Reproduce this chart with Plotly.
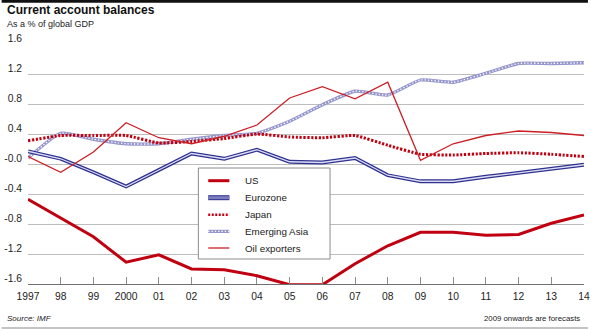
import plotly.graph_objects as go

# Current account balances, % of global GDP (2009 onwards are forecasts)
years = list(range(1997, 2015))
us = [-0.47, -0.72, -0.97, -1.31, -1.21, -1.40, -1.41, -1.49, -1.61, -1.61,
      -1.33, -1.09, -0.91, -0.91, -0.95, -0.94, -0.79, -0.68]
eurozone = [0.17, 0.07, -0.11, -0.30, -0.08, 0.14, 0.07, 0.19, 0.03, 0.02,
            0.08, -0.15, -0.23, -0.23, -0.17, -0.12, -0.07, -0.01]
japan = [0.31, 0.38, 0.38, 0.38, 0.28, 0.30, 0.34, 0.40, 0.36, 0.35,
         0.38, 0.25, 0.13, 0.12, 0.14, 0.15, 0.13, 0.10]
emerging_asia = [0.08, 0.41, 0.33, 0.27, 0.27, 0.33, 0.38, 0.41, 0.57, 0.79,
                 0.97, 0.92, 1.12, 1.09, 1.21, 1.34, 1.34, 1.35]
oil_exporters = [0.10, -0.11, 0.16, 0.55, 0.35, 0.27, 0.37, 0.52, 0.88, 1.03,
                 0.87, 1.09, 0.05, 0.27, 0.38, 0.44, 0.42, 0.38]

x_tick_labels = ["1997", "98", "99", "2000", "01", "02", "03", "04", "05",
                 "06", "07", "08", "09", "10", "11", "12", "13", "14"]
y_tick_vals = [1.6, 1.2, 0.8, 0.4, 0.0, -0.4, -0.8, -1.2, -1.6]
y_tick_labels = ["1.6", "1.2", "0.8", "0.4", "-0.0", "-0.4", "-0.8", "-1.2", "-1.6"]

series_names = ["US", "Eurozone", "Japan", "Emerging Asia", "Oil exporters"]

RED = "#c00010"
RED_THIN = "#cc1f26"
NAVY = "#2e3190"
LAVENDER = "#9696cc"
FONT = "Liberation Sans, Arial, sans-serif"

W_FIG, H_FIG = 594, 329
L, R, T, B = 26.7, 590.0, 44.3, 284.3
PW, PH = R - L, B - T


def px(x):
    return (x - L) / PW


def py(y):
    return (B - y) / PH


fig = go.Figure()

# Emerging Asia: chain of small rings (lavender band with white dots)
fig.add_trace(go.Scatter(x=years, y=emerging_asia, mode="lines",
                         line=dict(color=LAVENDER, width=3.3, shape="spline", smoothing=0.5),
                         showlegend=False, hoverinfo="skip"))
fig.add_trace(go.Scatter(x=years, y=emerging_asia, mode="lines", name="Emerging Asia",
                         line=dict(color="white", width=1.3, dash="1.3px,2px",
                                   shape="spline", smoothing=0.5),
                         showlegend=False))

# Eurozone: double navy line
fig.add_trace(go.Scatter(x=years, y=eurozone, mode="lines",
                         line=dict(color=NAVY, width=3.8),
                         showlegend=False, hoverinfo="skip"))
fig.add_trace(go.Scatter(x=years, y=eurozone, mode="lines", name="Eurozone",
                         line=dict(color="#dcdcf2", width=1.3),
                         showlegend=False))

# Japan: heavy dotted red
fig.add_trace(go.Scatter(x=years, y=japan, mode="lines", name="Japan",
                         line=dict(color=RED, width=3, dash="2.2px,1.6px",
                                   shape="spline", smoothing=0.4),
                         showlegend=False))

# Oil exporters: thin red
fig.add_trace(go.Scatter(x=years, y=oil_exporters, mode="lines", name="Oil exporters",
                         line=dict(color=RED_THIN, width=1.3),
                         showlegend=False))

# US: thick red
fig.add_trace(go.Scatter(x=years, y=us, mode="lines", name="US",
                         line=dict(color=RED, width=3),
                         showlegend=False))

shapes = []
annotations = []

# Header rule and footer rule
shapes.append(dict(type="rect", xref="paper", yref="paper",
                   x0=px(0), x1=px(W_FIG), y0=py(3), y1=py(0),
                   fillcolor="#111111", line=dict(width=0), layer="above"))
shapes.append(dict(type="line", xref="paper", yref="paper",
                   x0=px(0), x1=px(W_FIG), y0=py(328.3), y1=py(328.3),
                   line=dict(color="#b0b0b0", width=1.5)))

# Legend box
lx0, lx1, ly0, ly1 = 199.3, 332.7, 168.3, 259.3
shapes.append(dict(type="rect", xref="paper", yref="paper",
                   x0=px(lx0), x1=px(lx1), y0=py(ly1), y1=py(ly0),
                   fillcolor="white", line=dict(color="#8c8c8c", width=1), layer="above"))

sx0, sx1, text_x = 209.3, 230.7, 244.5
rows = [181.0, 198.0, 215.0, 231.7, 248.3]


def legend_line(y, color, width, dash=None):
    ln = dict(color=color, width=width)
    if dash:
        ln["dash"] = dash
    shapes.append(dict(type="line", xref="paper", yref="paper",
                       x0=px(sx0), x1=px(sx1), y0=py(y), y1=py(y),
                       line=ln, layer="above"))


legend_line(rows[0], RED, 3)
legend_line(rows[1], NAVY, 5)
legend_line(rows[1], "#7c7cc0", 3)
legend_line(rows[2], RED, 2.5, "2px,1.5px")
legend_line(rows[3], LAVENDER, 3.2)
legend_line(rows[3], "white", 1.2, "1.3px,2px")
legend_line(rows[4], RED_THIN, 1.3)

for name, y in zip(series_names, rows):
    annotations.append(dict(xref="paper", yref="paper", x=px(text_x), y=py(y),
                            text=name, showarrow=False, xanchor="left", yanchor="middle",
                            font=dict(family=FONT, size=9.8, color="#222222")))

# Titles and notes
annotations.append(dict(xref="paper", yref="paper", x=px(3.5), y=py(10.5),
                        text="<b>Current account balances</b>", showarrow=False,
                        xanchor="left", yanchor="middle",
                        font=dict(family=FONT, size=12, color="#111111")))
annotations.append(dict(xref="paper", yref="paper", x=px(3.5), y=py(24),
                        text="As a % of global GDP", showarrow=False,
                        xanchor="left", yanchor="middle",
                        font=dict(family=FONT, size=9, color="#222222")))
annotations.append(dict(xref="paper", yref="paper", x=px(3), y=py(319),
                        text="<i>Source: IMF</i>", showarrow=False,
                        xanchor="left", yanchor="middle",
                        font=dict(family=FONT, size=8, color="#222222")))
annotations.append(dict(xref="paper", yref="paper", x=px(588), y=py(318.5),
                        text="2009 onwards are forecasts", showarrow=False,
                        xanchor="right", yanchor="middle",
                        font=dict(family=FONT, size=7.8, color="#222222")))

fig.update_layout(
    width=W_FIG, height=H_FIG,
    margin=dict(l=L, r=W_FIG - R, t=T, b=H_FIG - B, pad=0),
    paper_bgcolor="white", plot_bgcolor="white",
    shapes=shapes, annotations=annotations,
    showlegend=False,
    xaxis=dict(range=[1997, 2014], tickvals=years, ticktext=x_tick_labels,
               showgrid=False, zeroline=False,
               showline=True, linecolor="#707070", linewidth=1,
               ticks="inside", ticklen=7, tickcolor="#8a8a8a", tickwidth=1,
               ticklabelstandoff=3, ticklabeloverflow="allow",
               tickfont=dict(family=FONT, size=10.3, color="#222222"),
               fixedrange=True),
    yaxis=dict(range=[-1.6, 1.6], tickvals=y_tick_vals, ticktext=y_tick_labels,
               showgrid=True, gridcolor="#bdbdbd", gridwidth=1,
               zeroline=False, showline=False, ticks="", ticklabelstandoff=5,
               ticklabelshift=-6, ticklabeloverflow="allow",
               tickfont=dict(family=FONT, size=10.3, color="#222222"),
               fixedrange=True),
)

fig.write_html("out.html", config={"displayModeBar": False})
